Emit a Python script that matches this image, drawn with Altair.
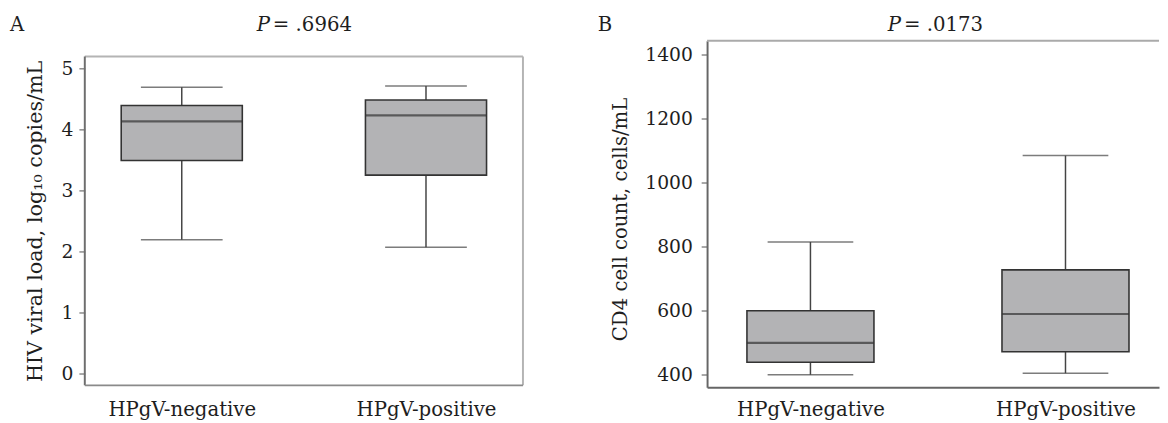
import altair as alt
import pandas as pd

# ---- data ----
categories = ["HPgV-negative", "HPgV-positive"]

hiv_lower = [2.19, 2.07]
hiv_q1 = [3.49, 3.25]
hiv_median = [4.13, 4.23]
hiv_q3 = [4.39, 4.48]
hiv_upper = [4.69, 4.71]

cd4_lower = [400, 405]
cd4_q1 = [439, 472]
cd4_median = [500, 590]
cd4_q3 = [600, 728]
cd4_upper = [815, 1085]

hiv_ticks = [0, 1, 2, 3, 4, 5]
cd4_ticks = [400, 600, 800, 1000, 1200, 1400]

FONT = "DejaVu Serif"
FS = 20
TICK_FS = 19
FILL = "#b3b3b5"
DARK = "#333333"
TXT = "#1e1e1e"
H = 352


def make_df(lo, q1, med, q3, hi):
    return pd.DataFrame({"cat": categories, "lo": lo, "q1": q1, "med": med, "q3": q3, "hi": hi})


def panel(df, width, ydomain, yvalues, ytitle, title_fs, box_w, cap_w, xpad, xalign,
          ydomain_line, title_pad, label_pad, title_y, letter, letter_x, p_x, pval, frame=None):
    xenc = alt.X("cat:N", sort=categories,
                 scale=alt.Scale(type="point", padding=xpad, align=xalign),
                 axis=alt.Axis(title=None, labelAngle=0, ticks=False, domain=ydomain_line,
                               domainColor="#666666", domainWidth=2,
                               labelPadding=13, labelFont=FONT, labelFontSize=FS, labelColor=TXT))
    yscale = alt.Scale(domain=ydomain, nice=False, zero=False)
    yaxis = alt.Axis(title=ytitle, values=yvalues, format="d", grid=False, domain=ydomain_line,
                     domainColor="#666666", domainWidth=2, tickSize=6, tickColor="#8a8a8a",
                     tickWidth=1.5, labelPadding=label_pad, labelFont=FONT, labelFontSize=TICK_FS,
                     labelColor=TXT, titleFont=FONT, titleFontSize=title_fs, titleFontWeight="normal",
                     titleColor=TXT, titlePadding=title_pad, titleY=title_y)
    base = alt.Chart(df)
    whisk = base.mark_rule(color="#444444", strokeWidth=1.5).encode(
        x=xenc, y=alt.Y("lo:Q", scale=yscale, axis=yaxis), y2="hi:Q")
    box = base.mark_bar(size=box_w, fill=FILL, stroke=DARK, strokeWidth=1.6).encode(
        x="cat:N", y="q1:Q", y2="q3:Q")
    cap_lo = base.mark_tick(size=cap_w, thickness=1.5, color="#444444").encode(x="cat:N", y="lo:Q")
    cap_hi = base.mark_tick(size=cap_w, thickness=1.5, color="#444444").encode(x="cat:N", y="hi:Q")
    med = base.mark_tick(size=box_w, thickness=2.2, color=DARK).encode(x="cat:N", y="med:Q")

    letter_t = alt.Chart(pd.DataFrame({"t": [letter]})).mark_text(
        font=FONT, fontSize=FS, align="left", baseline="alphabetic", color=TXT
    ).encode(x=alt.value(letter_x), y=alt.value(-10), text="t:N")
    p_t = alt.Chart(pd.DataFrame({"t": ["P"]})).mark_text(
        font=FONT, fontSize=FS, fontStyle="italic", align="right", baseline="alphabetic", color=TXT
    ).encode(x=alt.value(p_x), y=alt.value(-10), text="t:N")
    v_t = alt.Chart(pd.DataFrame({"t": ["= " + pval]})).mark_text(
        font=FONT, fontSize=FS, align="left", baseline="alphabetic", color=TXT
    ).encode(x=alt.value(p_x + 3), y=alt.value(-10), text="t:N")

    layers = [whisk, box, cap_lo, cap_hi, med, letter_t, p_t, v_t]
    if frame is not None:
        lo_f, hi_f = frame
        fdf = pd.DataFrame({"a": [lo_f], "b": [hi_f]})
        fb = alt.Chart(fdf)
        layers += [
            fb.mark_rule(color="#b4b4b4", strokeWidth=2).encode(x=alt.value(0), x2=alt.value(width), y="b:Q"),
            fb.mark_rule(color="#b4b4b4", strokeWidth=2).encode(x=alt.value(width), y="a:Q", y2="b:Q"),
            fb.mark_rule(color="#6e6e6e", strokeWidth=2).encode(x=alt.value(0), y="a:Q", y2="b:Q"),
            fb.mark_rule(color="#8a8a8a", strokeWidth=2).encode(x=alt.value(0), x2=alt.value(width), y="a:Q"),
        ]
    else:
        top = max(ydomain)
        fb = alt.Chart(pd.DataFrame({"b": [top]}))
        layers += [fb.mark_rule(color="#aaaaaa", strokeWidth=2).encode(
            x=alt.value(0), x2=alt.value(width), y="b:Q")]
    return alt.layer(*layers).properties(width=width, height=H)


hiv = make_df(hiv_lower, hiv_q1, hiv_median, hiv_q3, hiv_upper)
cd4 = make_df(cd4_lower, cd4_q1, cd4_median, cd4_q3, cd4_upper)

panel_a = panel(hiv, 445, [-0.2258, 5.4516], hiv_ticks, "HIV viral load, log\u2081\u2080 copies/mL", 21,
                123, 83, 0.397, 0.5, False, 16, 6, 183, "A", -76, 188, ".6964",
                frame=(-0.194, 5.194))
panel_b = panel(cd4, 459, [360.9, 1444], cd4_ticks, "CD4 cell count, cells/mL", 20,
                129, 87, 0.386, 0.525, True, 14, 9, 181, "B", -111, 197, ".0173")

chart = alt.hconcat(panel_a, panel_b, spacing=75).properties(
    padding={"left": 2, "top": 4, "right": 0, "bottom": 0}
).configure_view(stroke=None)

chart.save("out.html", embed_options={"renderer": "svg", "actions": False})
